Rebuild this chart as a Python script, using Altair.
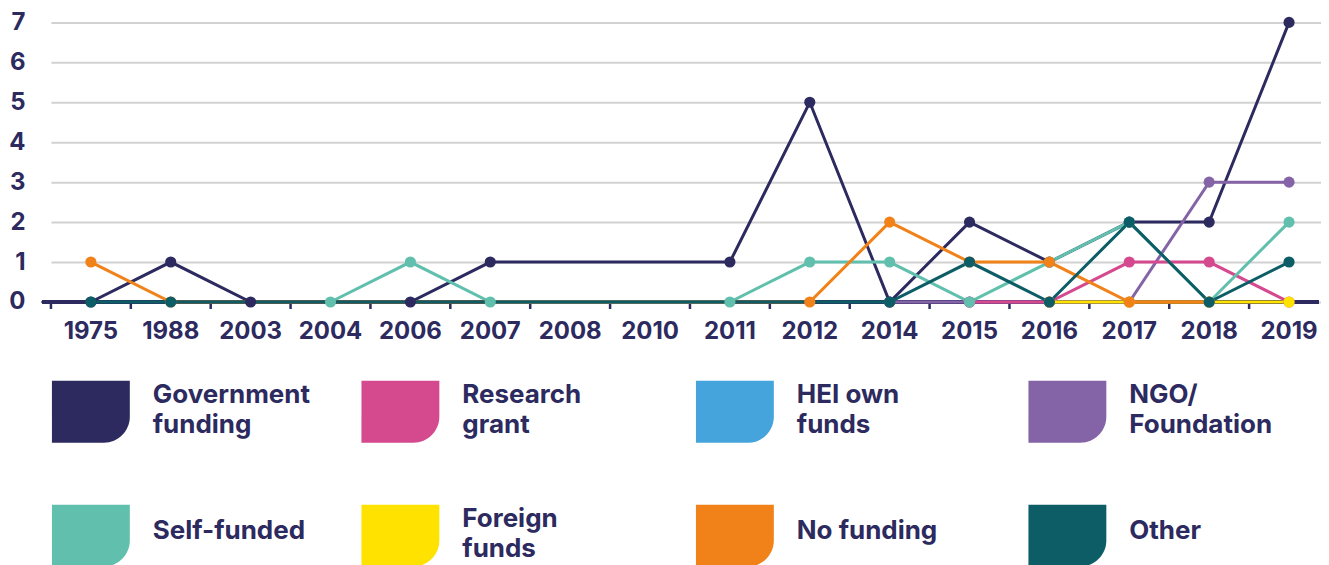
import altair as alt
import pandas as pd

# ---- data ----
years = ["1975", "1988", "2003", "2004", "2006", "2007", "2008", "2010",
         "2011", "2012", "2014", "2015", "2016", "2017", "2018", "2019"]

government = [0, 1, 0, None, 0, 1, None, None, 1, 5, 0, 2, 1, 2, 2, 7]
research = [None, None, None, None, None, None, None, None, None, None, None, 0, 0, 1, 1, 0]
hei_own = [None] * 16
ngo = [None, None, None, None, None, None, None, None, None, None, 0, 0, 0, 0, 3, 3]
self_funded = [None, None, None, 0, 1, 0, None, None, 0, 1, 1, 0, 1, 2, 0, 2]
foreign = [None, None, None, None, None, None, None, None, None, None, None, None, 0, 0, 0, 0]
no_funding = [1, 0, None, None, None, None, None, None, None, 0, 2, 1, 1, 0, 0, None]
other = [0, 0, None, None, None, None, None, None, None, None, 0, 1, 0, 2, 0, 1]

series_names = ["Government funding", "Research grant", "HEI own funds", "NGO/Foundation",
                "Self-funded", "Foreign funds", "No funding", "Other"]
series_values = [government, research, hei_own, ngo, self_funded, foreign, no_funding, other]
series_colors = ["#2c2a5e", "#d5498f", "#45a4dc", "#8464a7",
                 "#61bfad", "#ffe200", "#f08219", "#0c5d66"]
legend_labels = ["Government\nfunding", "Research\ngrant", "HEI own\nfunds", "NGO/\nFoundation",
                 "Self-funded", "Foreign\nfunds", "No funding", "Other"]
y_ticks = [0, 1, 2, 3, 4, 5, 6, 7]

# drawing order (bottom -> top)
z_order = ["Government funding", "HEI own funds", "NGO/Foundation", "Research grant",
           "Foreign funds", "Self-funded", "No funding", "Other"]

NAVY = "#2c2a5e"
FONT = "Inter"

rows = []
for name, vals in zip(series_names, series_values):
    for yr, v in zip(years, vals):
        if v is not None:
            rows.append({"year": yr, "value": v, "series": name})
df = pd.DataFrame(rows, columns=["year", "value", "series"])
color_of = dict(zip(series_names, series_colors))
years_df = pd.DataFrame({"year": years, "value": [0] * len(years)})

x_scale = alt.Scale(type="band", domain=years, range=[9, 1289], paddingInner=0, paddingOuter=0)
x_axis = alt.Axis(title=None, grid=False, ticks=False, domain=False,
                  labelFont=FONT, labelFontSize=24, labelFontWeight="bold",
                  labelColor=NAVY, labelPadding=18, labelAngle=0)
y_scale = alt.Scale(domain=[0, 7], nice=False, zero=True)
y_axis = alt.Axis(title=None, values=y_ticks, grid=True, gridColor="#d2d2d2",
                  gridWidth=2, ticks=False, tickSize=0, domain=False,
                  labelFont=FONT, labelFontSize=24, labelFontWeight="bold",
                  labelColor=NAVY, labelPadding=17, labelAlign="right",
                  minExtent=34, maxExtent=34)

X = alt.X("year:O", scale=x_scale, bandPosition=0.5, axis=x_axis)
X_edge = alt.X("year:O", scale=x_scale, bandPosition=0, axis=x_axis)
Y = alt.Y("value:Q", scale=y_scale, axis=y_axis)

# baseline (axis line) and band-edge ticks
baseline = alt.Chart(years_df).mark_rule(color=NAVY, strokeWidth=3).encode(y=Y)
ticks = alt.Chart(years_df).mark_rule(
    color=NAVY, strokeWidth=2.5, y2Offset=7
).encode(x=X_edge, y=Y, y2="value:Q")

layers = [baseline, ticks]
for name in z_order:
    layers.append(
        alt.Chart(df).transform_filter(alt.datum.series == name)
        .mark_line(color=color_of[name], strokeWidth=3)
        .encode(x=X, y=Y)
    )
for name in z_order:
    layers.append(
        alt.Chart(df).transform_filter(alt.datum.series == name)
        .mark_point(color=color_of[name], filled=True, opacity=1, size=125)
        .encode(x=X, y=Y)
    )

plot = alt.layer(*layers).properties(width=1279, height=280)

# ---- custom legend ----
leg_cols = [0, 1, 2, 3, 0, 1, 2, 3]
leg_rows = [0, 0, 0, 0, 1, 1, 1, 1]
leg_df = pd.DataFrame({"series": series_names, "label": legend_labels,
                       "col": leg_cols, "row": leg_rows})

LX = alt.X("col:Q", scale=alt.Scale(domain=[0, 1, 2, 3], range=[10, 320, 655, 988]), axis=None)
LY = alt.Y("row:Q", scale=alt.Scale(domain=[0, 1], range=[22, 146]), axis=None)

swatches = alt.Chart(leg_df).mark_rect(
    x2Offset=78, y2Offset=62, cornerRadiusBottomRight=26
).encode(
    x=LX, x2="col:Q", y=LY, y2="row:Q",
    color=alt.Color("series:N", scale=alt.Scale(domain=series_names, range=series_colors),
                    legend=None),
)
text_style = dict(align="left", baseline="middle", dx=101, font=FONT, fontSize=26,
                  fontWeight="bold", color=NAVY, lineBreak="\n", lineHeight=30)
two_line = alt.Chart(leg_df).transform_filter(
    "indexof(datum.label, '\\n') >= 0"
).mark_text(dy=14, **text_style).encode(x=LX, y=LY, text="label:N")
one_line = alt.Chart(leg_df).transform_filter(
    "indexof(datum.label, '\\n') < 0"
).mark_text(dy=26, **text_style).encode(x=LX, y=LY, text="label:N")

legend = alt.layer(swatches, two_line, one_line).properties(width=1279, height=200)

chart = alt.vconcat(plot, legend, spacing=15).properties(
    padding={"left": 0, "top": 2, "right": 0, "bottom": 0}
).configure_view(stroke=None)

chart.save("out.html", embed_options={"renderer": "svg", "actions": False})
